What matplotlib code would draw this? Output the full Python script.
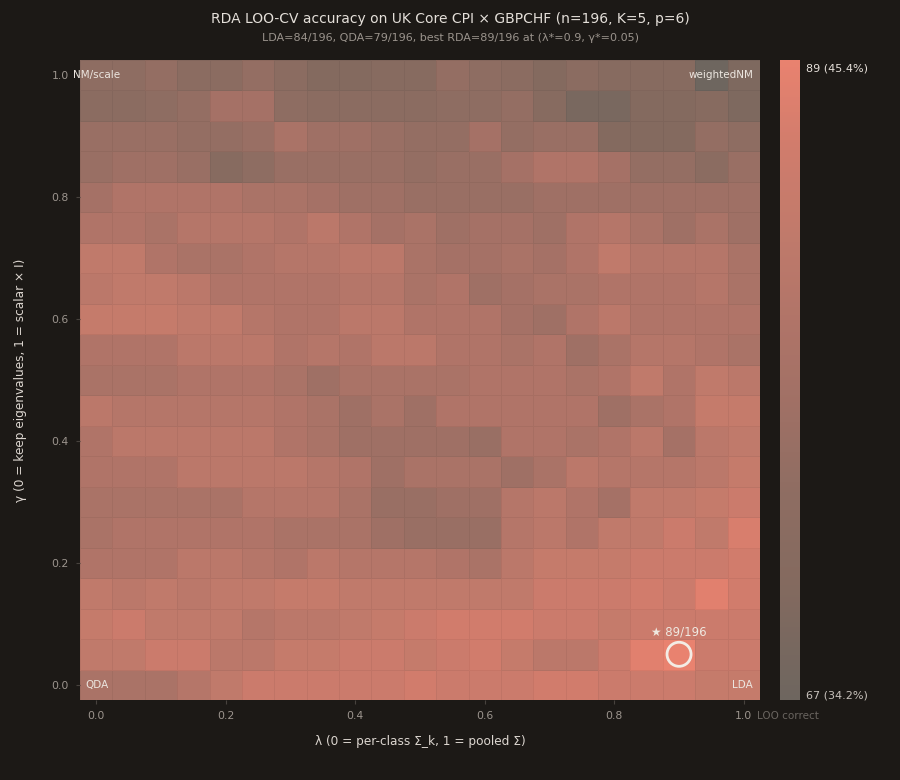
import numpy as np
import matplotlib
matplotlib.use('Agg')
import matplotlib.pyplot as plt
from matplotlib.colors import LinearSegmentedColormap

bg = '#1c1916'

lambdas = np.round(np.arange(21) * 0.05, 2)
gammas = np.round(np.arange(21) * 0.05, 2)

# LOO correct counts, rows from gamma = 1.0 (top) down to gamma = 0.0 (bottom)
acc_rows = [
    [74, 74, 75, 73, 73, 75, 73, 71, 71, 72, 72, 75, 74, 73, 71, 73, 72, 72, 72, 67, 70],
    [73, 73, 74, 75, 78, 78, 74, 73, 73, 73, 73, 74, 74, 75, 72, 69, 69, 71, 71, 72, 70],
    [76, 76, 76, 75, 75, 76, 79, 77, 77, 76, 75, 75, 78, 75, 76, 76, 71, 71, 71, 75, 74],
    [76, 77, 77, 76, 72, 74, 76, 76, 76, 76, 75, 76, 76, 78, 80, 80, 78, 75, 75, 73, 76],
    [78, 80, 80, 80, 80, 79, 79, 78, 77, 77, 76, 76, 76, 76, 77, 77, 77, 77, 77, 77, 77],
    [80, 80, 79, 81, 81, 81, 80, 82, 80, 78, 79, 77, 78, 78, 77, 80, 81, 79, 77, 79, 77],
    [83, 83, 80, 79, 79, 80, 81, 81, 82, 82, 79, 78, 78, 79, 78, 80, 83, 81, 81, 81, 79],
    [82, 83, 83, 82, 80, 80, 80, 80, 81, 81, 79, 80, 77, 78, 79, 79, 80, 80, 80, 81, 79],
    [84, 84, 84, 83, 83, 81, 80, 80, 82, 82, 80, 80, 80, 78, 77, 80, 82, 80, 80, 80, 80],
    [80, 80, 80, 82, 82, 82, 80, 81, 80, 82, 82, 80, 80, 79, 80, 77, 79, 81, 81, 80, 79],
    [79, 79, 79, 80, 80, 80, 79, 77, 79, 79, 79, 79, 80, 80, 80, 79, 80, 83, 80, 83, 82],
    [82, 81, 81, 81, 81, 81, 80, 79, 77, 79, 77, 80, 80, 80, 80, 80, 77, 79, 80, 84, 84],
    [80, 82, 82, 82, 82, 82, 80, 79, 77, 77, 77, 77, 76, 80, 80, 79, 80, 82, 78, 82, 83],
    [80, 80, 80, 82, 82, 82, 82, 81, 80, 77, 79, 79, 79, 77, 79, 82, 81, 81, 81, 82, 84],
    [79, 79, 79, 79, 79, 81, 81, 81, 79, 76, 76, 77, 77, 81, 82, 80, 78, 83, 83, 84, 85],
    [79, 80, 80, 80, 80, 80, 79, 79, 79, 77, 76, 76, 76, 81, 82, 80, 83, 83, 85, 83, 87],
    [80, 80, 80, 82, 82, 81, 80, 82, 81, 81, 81, 80, 79, 82, 84, 84, 84, 85, 85, 85, 86],
    [83, 82, 83, 82, 83, 83, 84, 84, 83, 83, 83, 83, 83, 83, 85, 85, 85, 86, 85, 88, 86],
    [84, 85, 83, 83, 83, 81, 82, 82, 83, 84, 85, 86, 86, 86, 85, 85, 84, 85, 85, 85, 85],
    [83, 83, 85, 85, 82, 82, 84, 84, 85, 85, 84, 85, 86, 84, 82, 82, 85, 88, 89, 85, 85],
    [79, 79, 79, 81, 83, 85, 85, 85, 85, 85, 86, 85, 85, 85, 86, 86, 85, 85, 85, 84, 84],
]
n_obs = 196
vmin, vmax = 67, 89
best_lam, best_gam, best_acc = 0.9, 0.05, 89

acc = np.flipud(np.array(acc_rows))

cmap = LinearSegmentedColormap.from_list('loo', [
    (0.0, '#6e665f'), (4/22, '#846a5f'), (7/22, '#8e6d62'), (10/22, '#9f7065'),
    (13/22, '#b07468'), (16/22, '#c07a6b'), (19/22, '#d07c6c'), (1.0, '#e9826f')])

fig = plt.figure(figsize=(9, 7.8), dpi=100, facecolor=bg)
ax = fig.add_axes([80/900, 1 - 700/780, 680/900, 640/780])
cax = fig.add_axes([780/900, 1 - 700/780, 20/900, 640/780])
ax.set_facecolor(bg)

mesh = ax.pcolormesh(lambdas, gammas, acc, cmap=cmap, vmin=vmin, vmax=vmax,
                     shading='nearest', edgecolors=(0, 0, 0, 0.05), linewidth=0.6)
ax.set_xlim(-0.025, 1.025)
ax.set_ylim(-0.025, 1.025)

for s in ax.spines.values():
    s.set_visible(False)
ax.set_xticks([0, 0.2, 0.4, 0.6, 0.8, 1.0])
ax.set_yticks([0, 0.2, 0.4, 0.6, 0.8, 1.0])
ax.tick_params(colors='#48433e', labelcolor='#9c958e', labelsize=7.8, length=3, pad=5)
ax.set_xlabel('λ (0 = per-class Σ_k, 1 = pooled Σ)', color='#dcd6d0', fontsize=8.7, labelpad=10)
ax.set_ylabel('γ (0 = keep eigenvalues, 1 = scalar × I)', color='#dcd6d0', fontsize=8.7, labelpad=18)

# corner labels
lab_kw = dict(transform=ax.transAxes, color='#ece6e0', fontsize=7.5)
ax.text(-0.011, 0.977, 'NM/scale', ha='left', va='center', **lab_kw)
ax.text(0.99, 0.977, 'weightedNM', ha='right', va='center', **lab_kw)
ax.text(0.008, 0.023, 'QDA', ha='left', va='center', **lab_kw)
ax.text(0.99, 0.023, 'LDA', ha='right', va='center', **lab_kw)

# best point
ax.scatter([best_lam], [best_gam], s=300, facecolors='none', edgecolors='#f3ece5', linewidths=2, zorder=5)
ax.annotate(f'★ {best_acc}/{n_obs}', (best_lam, best_gam), xytext=(0, 16), textcoords='offset points',
            ha='center', va='center', color='#efe8e0', fontsize=8.5)

# colorbar
cb = fig.colorbar(mesh, cax=cax)
cb.outline.set_visible(False)
cax.set_yticks([])
cax.text(1.3, 0.995, f'{vmax} ({vmax / n_obs * 100:.1f}%)', transform=cax.transAxes,
         ha='left', va='top', color='#e6e0da', fontsize=8)
cax.text(1.3, 0.0, f'{vmin} ({vmin / n_obs * 100:.1f}%)', transform=cax.transAxes,
         ha='left', va='bottom', color='#c8c2bc', fontsize=8)
fig.text(757/900, 1 - 716/780, 'LOO correct', ha='left', va='center', color='#6a6560', fontsize=7.5)

fig.text(0.5, 1 - 19/780, 'RDA LOO-CV accuracy on UK Core CPI × GBPCHF (n=196, K=5, p=6)',
         ha='center', va='center', color='#e4dfd9', fontsize=10)
fig.text(0.5, 1 - 38/780, 'LDA=84/196, QDA=79/196, best RDA=89/196 at (λ*=0.9, γ*=0.05)',
         ha='center', va='center', color='#9a938c', fontsize=8)

fig.savefig('out.png', dpi=100, facecolor=bg)
